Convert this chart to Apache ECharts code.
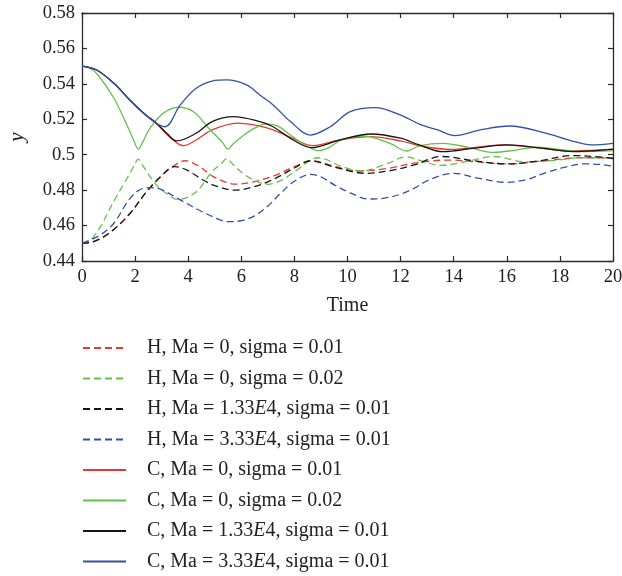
<!DOCTYPE html>
<html><head><meta charset="utf-8">
<script src="https://cdn.jsdelivr.net/npm/echarts/dist/echarts.min.js"></script>
<style>html,body{margin:0;padding:0;background:#fff}#c{width:622px;height:576px}</style>
</head><body><div id="c"></div>
<script>
// ---- data ----
const names = [
  'H, Ma = 0, sigma = 0.01',
  'H, Ma = 0, sigma = 0.02',
  'H, Ma = 1.33E4, sigma = 0.01',
  'H, Ma = 3.33E4, sigma = 0.01',
  'C, Ma = 0, sigma = 0.01',
  'C, Ma = 0, sigma = 0.02',
  'C, Ma = 1.33E4, sigma = 0.01',
  'C, Ma = 3.33E4, sigma = 0.01'
];
const xTicks = [0, 2, 4, 6, 8, 10, 12, 14, 16, 18, 20];
const yTicks = [0.44, 0.46, 0.48, 0.5, 0.52, 0.54, 0.56, 0.58];

const tHr = [0,0.4,0.8,1.2,1.8,2.4,2.9,3.4,3.88,4.4,5.0,5.8,6.5,7.3,8.0,8.7,9.5,10.4,11.5,12.5,13.8,15.0,16.0,17.2,18.4,19.2,20];
const yHr = [0.45,0.4508,0.4535,0.4578,0.4667,0.4785,0.4865,0.4932,0.4966,0.4935,0.4872,0.4834,0.4848,0.4885,0.4933,0.4965,0.4935,0.4908,0.4922,0.4952,0.4970,0.4958,0.4948,0.4962,0.4980,0.4983,0.4978];

const tHg = [0,0.3,0.7,1.2,1.7,1.95,2.12,2.3,2.8,3.2,3.6,4.3,4.9,5.25,5.45,5.65,6.1,6.6,7.0,7.5,8.0,8.9,9.8,10.5,11.5,12.2,12.8,13.5,14.5,15.5,16.7,17.8,18.8,20];
const yHg = [0.45,0.4515,0.4595,0.4738,0.4868,0.4935,0.4975,0.4935,0.4830,0.4780,0.4746,0.4790,0.4905,0.4950,0.4978,0.4950,0.4890,0.4848,0.4833,0.4855,0.4903,0.4983,0.4933,0.4908,0.4950,0.4988,0.4965,0.4940,0.4962,0.4990,0.4960,0.4968,0.4983,0.4982];

const tHk = [0,0.4,0.8,1.2,1.8,2.4,2.9,3.5,4.0,4.5,5.0,5.75,6.5,7.2,8.0,8.6,9.5,10.7,11.6,12.5,13.55,14.8,16.0,17.2,18.5,19.3,20];
const yHk = [0.45,0.4508,0.4535,0.4578,0.4667,0.4785,0.4868,0.4933,0.4910,0.4862,0.4826,0.4800,0.4820,0.4860,0.4925,0.4966,0.4930,0.4895,0.4910,0.4942,0.4990,0.4965,0.4948,0.4965,0.4995,0.4990,0.4980];

const tHb = [0,0.3,0.7,1.2,1.8,2.3,2.62,3.0,3.7,4.4,5.2,5.55,6.0,6.5,7.0,7.5,8.0,8.6,9.0,9.5,10.1,10.8,11.4,12.0,12.5,13.1,14.0,14.9,16.0,16.8,17.4,18.2,18.9,19.5,20];
const yHb = [0.45,0.4518,0.4548,0.4613,0.4752,0.4810,0.4814,0.4803,0.4745,0.4688,0.4632,0.4622,0.4628,0.4655,0.4710,0.4785,0.4850,0.4889,0.4875,0.4830,0.4785,0.4750,0.4755,0.4777,0.4810,0.4860,0.4895,0.4868,0.4844,0.4862,0.4895,0.4930,0.4948,0.4945,0.4936];

const tCr = [0,0.55,1.2,1.8,2.4,2.8,3.3,3.82,4.3,4.9,5.85,6.7,7.2,7.9,8.7,9.7,10.85,12.0,12.7,13.9,14.9,15.9,17.1,18.3,19.2,20];
const yCr = [0.55,0.5478,0.5403,0.5309,0.5224,0.5178,0.5100,0.5051,0.5083,0.5140,0.5178,0.5162,0.5140,0.5095,0.5051,0.5083,0.5102,0.5078,0.5051,0.5030,0.5043,0.5055,0.5040,0.5022,0.5025,0.5030];

const tCg = [0,0.3,0.6,1.2,1.7,1.95,2.12,2.3,2.56,3.06,3.63,4.2,4.8,5.3,5.49,5.7,6.1,6.5,6.96,7.4,7.85,8.4,8.9,9.3,9.75,10.6,11.6,12.23,12.7,13.6,14.6,15.5,16.3,17.1,18.0,18.8,20];
const yCg = [0.55,0.5488,0.5450,0.5320,0.5165,0.5080,0.5032,0.5075,0.5150,0.5234,0.5268,0.5243,0.5145,0.5068,0.5031,0.5062,0.5111,0.5150,0.5174,0.5160,0.5111,0.5055,0.5023,0.5040,0.5083,0.5105,0.5064,0.5021,0.5050,0.5064,0.5040,0.5013,0.5025,0.5042,0.5030,0.5017,0.5023];

const tCk = [0,0.55,1.2,1.8,2.4,2.8,3.2,3.57,4.3,4.9,5.7,6.7,7.2,7.95,8.65,9.7,10.9,12.0,12.7,13.6,14.8,16.0,17.3,18.5,19.3,20];
const yCk = [0.55,0.5478,0.5403,0.5309,0.5224,0.5178,0.5120,0.5078,0.5121,0.5187,0.5215,0.5187,0.5158,0.5083,0.5040,0.5083,0.5117,0.5093,0.5055,0.5017,0.5037,0.5055,0.5037,0.5017,0.5022,0.5031];

const tCb = [0,0.55,1.2,1.8,2.4,2.8,3.13,3.7,4.3,4.9,5.45,6.2,6.7,7.2,7.85,8.6,9.35,10.1,11.05,12.0,12.75,13.4,14.05,15.0,16.1,17.5,18.4,19.2,20];
const yCb = [0.55,0.5478,0.5403,0.5309,0.5224,0.5178,0.5158,0.5281,0.5375,0.5416,0.5422,0.5394,0.5337,0.5281,0.5187,0.5111,0.5158,0.5243,0.5266,0.5224,0.5170,0.5140,0.5108,0.5140,0.5162,0.5121,0.5080,0.5055,0.5064];

// ---- chart ----
const RED = '#e5392f', GREEN = '#63c04c', BLACK = '#161616', BLUE = '#3350a6';
const FONT = '"Liberation Serif", "DejaVu Serif", serif';
const pairs = (t, y) => t.map((v, i) => [v, y[i]]);
const specs = [
  [tHr, yHr, RED, true], [tHg, yHg, GREEN, true], [tHk, yHk, BLACK, true], [tHb, yHb, BLUE, true],
  [tCr, yCr, RED, false], [tCg, yCg, GREEN, false], [tCk, yCk, BLACK, false], [tCb, yCb, BLUE, false]
];
const series = specs.map((s, i) => ({
  name: names[i], type: 'line', data: pairs(s[0], s[1]), smooth: 0.35, symbol: 'none',
  xAxisIndex: 0, yAxisIndex: 0,
  lineStyle: { color: s[2], width: 1.3, type: s[3] ? [7, 4] : 'solid' },
  itemStyle: { color: s[2] }
}));

const axisLine = { show: true, onZero: false, lineStyle: { color: '#2a2a2a', width: 1.3 } };
const axisTick = { show: true, inside: true, length: 5, lineStyle: { color: '#2a2a2a', width: 1.2 } };
const labelStyle = { fontFamily: FONT, fontSize: 18.5, color: '#222' };
const fmt = v => String(+(+v).toFixed(2));

const chart = echarts.init(document.getElementById('c'), null, { renderer: 'canvas' });
chart.setOption({
  animation: false,
  backgroundColor: '#fff',
  grid: { left: 82, right: 9, top: 13, bottom: 315, containLabel: false, outerBoundsMode: 'none' },
  xAxis: [
    { type: 'value', position: 'bottom', min: xTicks[0], max: xTicks[xTicks.length - 1], interval: 2,
      axisLine, axisTick, splitLine: { show: false },
      axisLabel: Object.assign({ margin: 7, formatter: fmt }, labelStyle),
      name: 'Time', nameLocation: 'middle', nameGap: 35,
      nameTextStyle: { fontFamily: FONT, fontSize: 20, color: '#222' } },
    { type: 'value', position: 'top', min: xTicks[0], max: xTicks[xTicks.length - 1], interval: 2,
      axisLine, axisTick, splitLine: { show: false }, axisLabel: { show: false } }
  ],
  yAxis: [
    { type: 'value', position: 'left', min: yTicks[0], max: yTicks[yTicks.length - 1], interval: 0.02,
      axisLine, axisTick, splitLine: { show: false },
      axisLabel: Object.assign({ margin: 7, formatter: fmt }, labelStyle),
      name: 'y', nameLocation: 'middle', nameGap: 54, nameRotate: 90,
      nameTextStyle: { fontFamily: FONT, fontSize: 21, fontStyle: 'italic', color: '#222' } },
    { type: 'value', position: 'right', min: yTicks[0], max: yTicks[yTicks.length - 1], interval: 0.02,
      axisLine, axisTick, splitLine: { show: false }, axisLabel: { show: false } }
  ],
  legend: {
    orient: 'vertical', left: 82, top: 337, padding: 0,
    itemWidth: 43, itemHeight: 14, itemGap: 8.5,
    itemStyle: { opacity: 0 },
    data: names,
    formatter: n => {
      const m = n.match(/^(.*\d)E(4.*)$/);
      return m ? '{n|' + m[1] + '}{i|E}{n|' + m[2] + '}' : '{n|' + n + '}';
    },
    textStyle: {
      fontFamily: FONT, fontSize: 20, color: '#222', lineHeight: 22, padding: [0, 0, 0, 16],
      rich: {
        n: { fontFamily: FONT, fontSize: 20, color: '#222', lineHeight: 22 },
        i: { fontFamily: FONT, fontSize: 20, color: '#222', fontStyle: 'italic', lineHeight: 22 }
      }
    }
  },
  series
});
</script></body></html>
